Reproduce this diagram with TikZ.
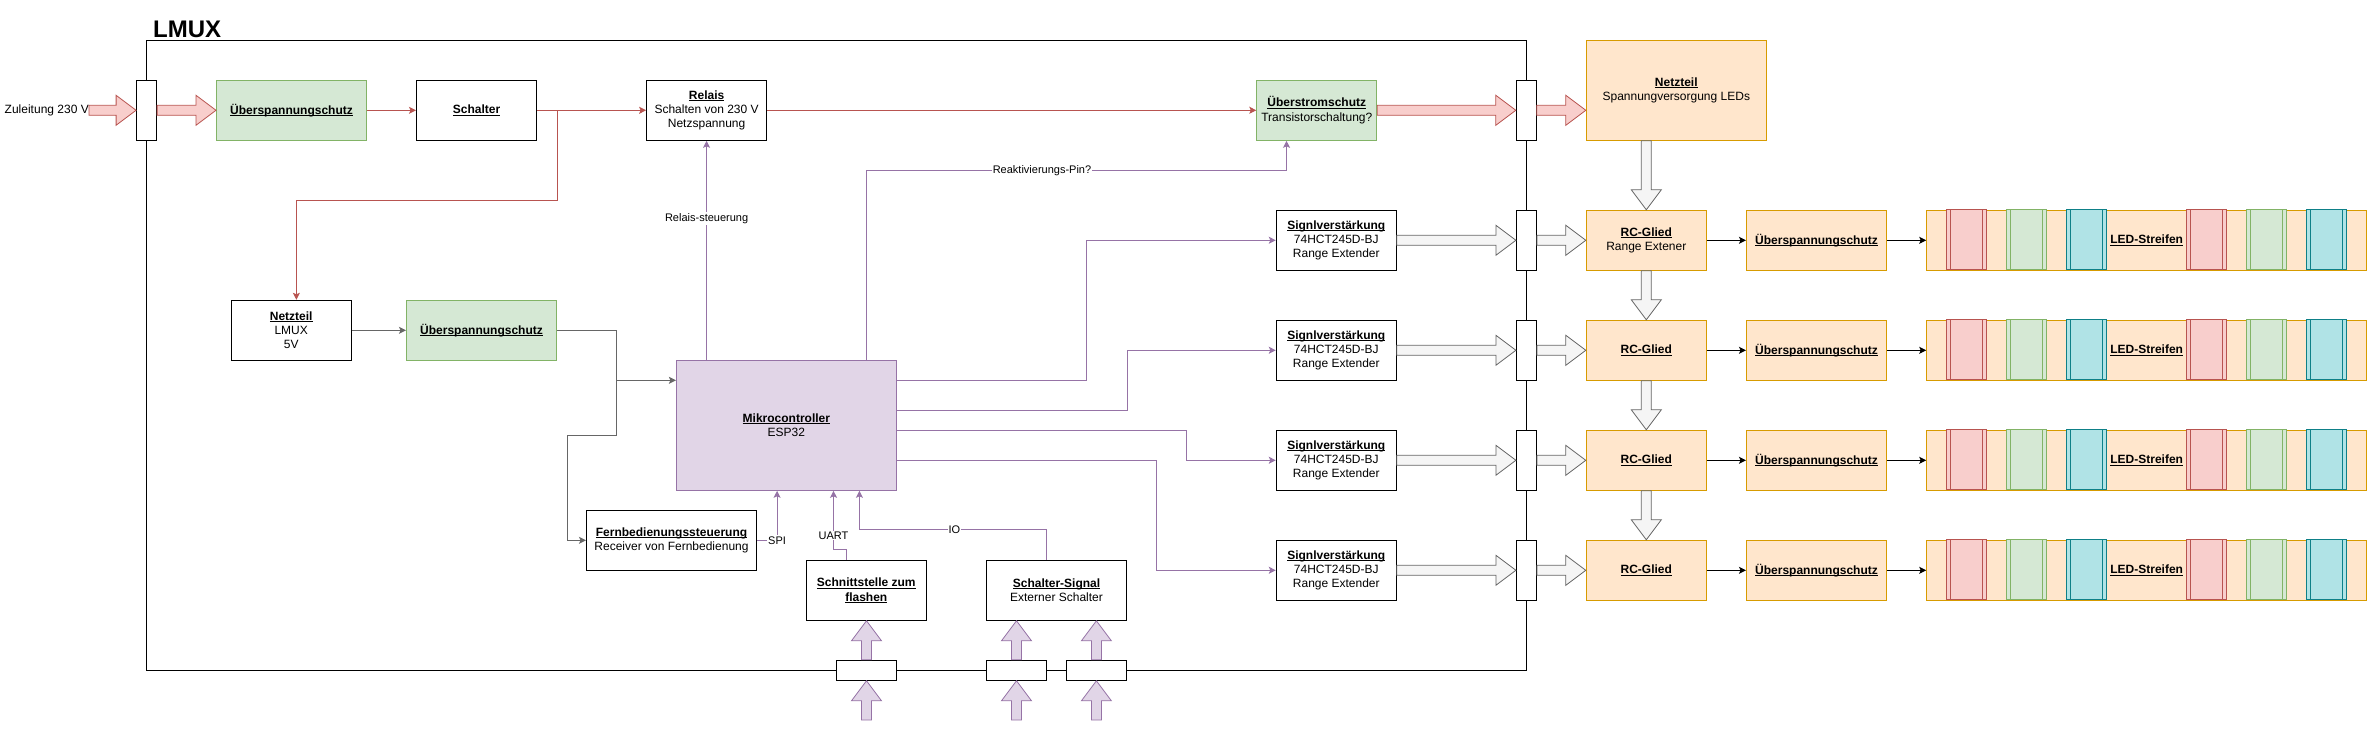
\documentclass[tikz,border=0pt]{standalone}
\usepackage{fontspec}
\setmainfont{Liberation Sans}
\usetikzlibrary{arrows.meta,calc}
\newcommand{\ub}[1]{\leavevmode\setbox0\hbox{\textbf{#1}}\rlap{\rule[-1.7pt]{\wd0}{0.8pt}}\box0}
\newcommand{\fsn}{\fontsize{12}{14.4}\selectfont}
\newcommand{\fsl}{\fontsize{11}{13}\selectfont}
\definecolor{redS}{HTML}{B85450}\definecolor{redF}{HTML}{F8CECC}
\definecolor{greenS}{HTML}{82B366}\definecolor{greenF}{HTML}{D5E8D4}
\definecolor{purpleS}{HTML}{9673A6}\definecolor{purpleF}{HTML}{E1D5E7}
\definecolor{orangeS}{HTML}{D79B00}\definecolor{orangeF}{HTML}{FFE6CC}
\definecolor{cyanS}{HTML}{0E8088}\definecolor{cyanF}{HTML}{B0E3E6}
\definecolor{greyS}{HTML}{666666}\definecolor{greyF}{HTML}{F5F5F5}
% flex arrows: horizontal to the right, vertical down, vertical up
\newcommand{\flexH}[3]{\path[#1] let \p1=(#2), \p2=(#3) in
  (\x1,\y1+5pt) -- (\x2-20pt,\y1+5pt) -- (\x2-20pt,\y1+15pt) -- (\x2,\y1) --
  (\x2-20pt,\y1-15pt) -- (\x2-20pt,\y1-5pt) -- (\x1,\y1-5pt) -- cycle;}
\newcommand{\flexD}[3]{\path[#1] let \p1=(#2), \p2=(#3) in
  (\x1-5pt,\y1) -- (\x1-5pt,\y2+20pt) -- (\x1-15pt,\y2+20pt) -- (\x1,\y2) --
  (\x1+15pt,\y2+20pt) -- (\x1+5pt,\y2+20pt) -- (\x1+5pt,\y1) -- cycle;}
\newcommand{\flexU}[3]{\path[#1] let \p1=(#2), \p2=(#3) in
  (\x1-5pt,\y1) -- (\x1-5pt,\y2-20pt) -- (\x1-15pt,\y2-20pt) -- (\x1,\y2) --
  (\x1+15pt,\y2-20pt) -- (\x1+5pt,\y2-20pt) -- (\x1+5pt,\y1) -- cycle;}
\tikzset{
  every node/.style={font=\fsn, inner sep=0pt, align=center},
  sz/.style 2 args={minimum width=#1, minimum height=#2},
  wbox/.style={draw=black, fill=white, line width=1pt},
  gbox/.style={draw=greenS, fill=greenF, line width=1pt},
  obox/.style={draw=orangeS, fill=orangeF, line width=1pt},
  pbox/.style={draw=purpleS, fill=purpleF, line width=1pt},
  pinbox/.style={draw=black, fill=white, line width=1pt},
  ledbox/.style={draw=orangeS, fill=orangeF, line width=1pt, minimum width=440pt, minimum height=60pt},
  segR/.style={draw=redS, fill=redF, line width=1pt},
  segG/.style={draw=greenS, fill=greenF, line width=1pt},
  segC/.style={draw=cyanS, fill=cyanF, line width=1pt},
  lbl/.style={font=\fsl, fill=white, inner sep=1pt},
  arr/.style={-{Stealth[length=7pt,width=7pt,inset=1.5pt]}},
  rline/.style={draw=redS, line width=1pt, arr},
  pline/.style={draw=purpleS, line width=1pt, arr},
  gline/.style={draw=greyS, line width=1pt, arr},
  gplain/.style={draw=greyS, line width=1pt},
  kline/.style={draw=black, line width=1pt, arr},
  rflex/.style={draw=redS, fill=redF, line width=0.8pt},
  wflex/.style={draw=greyS, fill=greyF, line width=0.8pt},
  pflex/.style={draw=purpleS, fill=purpleF, line width=0.8pt}
}
\begin{document}
\begin{tikzpicture}[x=1pt,y=-1pt]
\useasboundingbox (0,0) rectangle (2377,730);
% LMUX frame
\node[draw=black, line width=1pt, sz={1379.9pt}{630pt}] (frame) at (836.35,355.3) {};
\node[anchor=base west, font=\fontsize{24}{28}\selectfont\bfseries] (title) at (153,37.8) {LMUX};

% top row
\node[anchor=east] (zul) at (89,110.3) {Zuleitung 230 V};
\coordinate (zs) at (89,110.3);
\node[pinbox, sz={20pt}{60pt}] (pl) at (146.6,110.3) {};
\node[gbox, sz={150pt}{60pt}] (ov0) at (291.5,110.3) {\ub{Überspannungschutz}};
\node[wbox, sz={120pt}{60pt}] (sch) at (476.5,110.3) {\ub{Schalter}};
\node[wbox, sz={120pt}{60pt}] (rel) at (706.6,110.3) {\ub{Relais}\\Schalten von 230 V\\Netzspannung};
\node[gbox, sz={120pt}{60pt}] (ost) at (1316.8,110.3) {\ub{Überstromschutz}\\Transistorschaltung?};
\node[pinbox, sz={20pt}{60pt}] (pr0) at (1526.3,110.3) {};
\node[obox, sz={180pt}{100pt}] (netz) at (1676.3,90.3) {\ub{Netzteil}\\Spannungversorgung LEDs};

% middle
\node[wbox, sz={120pt}{60pt}] (nt) at (291.2,330.3) {\ub{Netzteil}\\LMUX\\5V};
\node[gbox, sz={150pt}{60pt}] (ov5) at (481.5,330.3) {\ub{Überspannungschutz}};
\node[pbox, sz={220pt}{130pt}] (mc) at (786.4,425.3) {\ub{Mikrocontroller}\\ESP32};
\node[wbox, sz={170pt}{60pt}] (fb) at (671.5,540.3) {\ub{Fernbedienungssteuerung}\\Receiver von Fernbedienung};
\node[wbox, sz={120pt}{60pt}] (sf) at (866.3,590.3) {\ub{Schnittstelle zum}\\\ub{flashen}};
\node[wbox, sz={140pt}{60pt}] (ss) at (1056.5,590.3) {\ub{Schalter-Signal}\\Externer Schalter};
\node[pinbox, sz={60pt}{20pt}] (pb1) at (866.5,670.3) {};
\node[pinbox, sz={60pt}{20pt}] (pb2) at (1016.5,670.3) {};
\node[pinbox, sz={60pt}{20pt}] (pb3) at (1096.4,670.3) {};
\coordinate (in1) at (866.5,720);
\coordinate (in2) at (1016.5,720);
\coordinate (in3) at (1096.4,720);

% right side rows
\node[obox, sz={120pt}{60pt}] (rc1) at (1646.3,240.3) {\ub{RC-Glied}\\Range Extener};
\foreach \i/\y in {2/350.3,3/460.3,4/570.3}{
  \node[obox, sz={120pt}{60pt}] (rc\i) at (1646.3,\y) {\ub{RC-Glied}};
}
\foreach \i/\y in {1/240.3,2/350.3,3/460.3,4/570.3}{
  \node[wbox, sz={120pt}{60pt}] (sig\i) at (1336.3,\y) {\ub{Signlverstärkung}\\74HCT245D-BJ\\Range Extender};
  \node[pinbox, sz={20pt}{60pt}] (pr\i) at (1526.4,\y) {};
  \node[obox, sz={140pt}{60pt}] (ovl\i) at (1816.5,\y) {\ub{Überspannungschutz}};
  \node[ledbox] (led\i) at (2146.7,\y) {\ub{LED-Streifen}};
  \foreach \o in {20,260}{
    \draw[segR] ($(led\i.north west)+(\o,0)$) rectangle ++(40,60);
    \draw[segR] ($(led\i.north west)+(\o+4,0)$) -- ++(0,60);
    \draw[segR] ($(led\i.north west)+(\o+36,0)$) -- ++(0,60);
  }
  \foreach \o in {80,320}{
    \draw[segG] ($(led\i.north west)+(\o,0)$) rectangle ++(40,60);
    \draw[segG] ($(led\i.north west)+(\o+4,0)$) -- ++(0,60);
    \draw[segG] ($(led\i.north west)+(\o+36,0)$) -- ++(0,60);
  }
  \foreach \o in {140,380}{
    \draw[segC] ($(led\i.north west)+(\o,0)$) rectangle ++(40,60);
    \draw[segC] ($(led\i.north west)+(\o+4,0)$) -- ++(0,60);
    \draw[segC] ($(led\i.north west)+(\o+36,0)$) -- ++(0,60);
  }
  \flexH{wflex}{sig\i.east}{pr\i.west}
  \flexH{wflex}{pr\i.east}{rc\i.west}
  \draw[kline] (rc\i) -- (ovl\i);
  \draw[kline] (ovl\i) -- (led\i);
}
\flexD{wflex}{rc1.north |- netz.south}{rc1.north}
\foreach \i/\j in {1/2,2/3,3/4}{
  \flexD{wflex}{rc\i.south}{rc\j.north}
}

% big red arrows
\flexH{rflex}{zs}{pl.west}
\flexH{rflex}{pl.east}{ov0.west}
\flexH{rflex}{ost.east}{pr0.west}
\flexH{rflex}{pr0.east}{netz.west |- pr0.east}

% purple input arrows
\flexU{pflex}{in1}{pb1.south}
\flexU{pflex}{pb1.north}{pb1.north |- sf.south}
\flexU{pflex}{in2}{pb2.south}
\flexU{pflex}{pb2.north}{pb2.north |- ss.south}
\flexU{pflex}{in3}{pb3.south}
\flexU{pflex}{pb3.north}{pb3.north |- ss.south}

% red connectors
\draw[rline] (ov0) -- (sch);
\draw[rline] (sch) -- (rel);
\draw[rline] (rel) -- (ost);
\draw[rline] ([xshift=20.1pt]sch.east) -- ++(0,90) -| ([xshift=5.2pt]nt.north);

% grey connectors
\draw[gline] (nt) -- (ov5);
\draw[gplain] (ov5.east) -- ++(59.8,0) coordinate (gj1) -- ++(0,105) -- ++(-49.7,0) coordinate (gj3);
\draw[gline] (gj3) |- (fb.west);
\path ([yshift=45pt]mc.west) coordinate (mcin);
\draw[gline] (gj1 |- mcin) -- (mcin);

% purple connectors
\draw[pline] (rel.south |- mc.north) -- node[lbl, pos=0.645] {Relais-steuerung} (rel.south);
\draw[pline] ([xshift=80pt]mc.north) |- node[lbl, pos=0.709] {Reaktivierungs-Pin?} ([xshift=-30.3pt,yshift=-30pt]ost.south) -- ([xshift=-30.3pt]ost.south);
\draw[pline] ([yshift=45pt]mc.east) -- ++(189.8,0) |- (sig1.west);
\draw[pline] ([yshift=15pt]mc.east) -- ++(230.1,0) |- (sig2.west);
\draw[pline] ([yshift=-5pt]mc.east) -- ++(289.8,0) |- (sig3.west);
\draw[pline] ([yshift=-35pt]mc.east) -- ++(259.7,0) |- (sig4.west);
\draw[pline] (fb.east) -- ++(20.1,0) coordinate (spi) -- (spi |- mc.south);
\node[lbl] (spil) at (spi) {SPI};
\draw[pline] ([xshift=-19.9pt]sf.north) -- ++(0,-10) -| node[lbl, pos=0.62] {UART} ([xshift=47.1pt]mc.south);
\draw[pline] ([xshift=-10.1pt]ss.north) -- ++(0,-30) -| node[lbl, pos=0.246] {IO} ([xshift=73pt]mc.south);
\end{tikzpicture}
\end{document}
